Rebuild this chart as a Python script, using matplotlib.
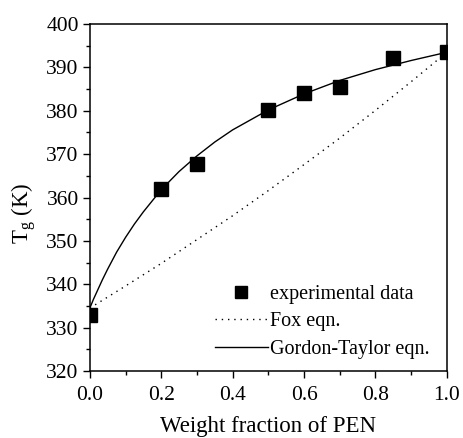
import matplotlib
matplotlib.use("Agg")
import matplotlib.pyplot as plt
from matplotlib.ticker import MultipleLocator, FuncFormatter

plt.rcParams['font.family'] = ['Liberation Serif', 'DejaVu Serif']
plt.rcParams['mathtext.fontset'] = 'custom'
plt.rcParams['mathtext.rm'] = 'Liberation Serif'
plt.rcParams['mathtext.it'] = 'Liberation Serif'

# experimental data
w_exp = [0.0, 0.2, 0.3, 0.5, 0.6, 0.7, 0.85, 1.0]
tg_exp = [333.0, 362.0, 367.7, 380.1, 384.1, 385.6, 392.1, 393.5]

# Fox equation curve
w_fox = [0.0, 0.1, 0.2, 0.3, 0.4, 0.5, 0.6, 0.7, 0.8, 0.9, 1.0]
tg_fox = [334.5, 339.6, 344.8, 350.3, 355.8, 361.6, 367.6, 373.7, 380.1, 386.7, 393.5]

# Gordon-Taylor equation curve
w_gt = [0.0, 0.01, 0.02, 0.035, 0.05, 0.075, 0.1, 0.125, 0.15, 0.2, 0.25,
        0.3, 0.35, 0.4, 0.5, 0.6, 0.7, 0.8, 0.9, 1.0]
tg_gt = [334.5, 336.5, 338.3, 341.0, 343.5, 347.4, 350.8, 353.9, 356.7, 361.8, 366.0,
         369.6, 372.8, 375.6, 380.2, 383.9, 387.0, 389.5, 391.6, 393.5]

fig = plt.figure(figsize=(4.63, 4.38), dpi=100)
ax = fig.add_axes([0.194, 0.153, 0.771, 0.792])

ax.plot(w_exp, tg_exp, linestyle='none', marker='s', color='black',
        markersize=9.7, label='experimental data', zorder=3)
ax.plot(w_fox, tg_fox, linestyle=(0, (1, 3.5)), color='black', linewidth=1.0,
        label='Fox eqn.')
ax.plot(w_gt, tg_gt, linestyle='-', color='black', linewidth=1.0,
        label='Gordon-Taylor eqn.')

ax.set_xlim(0.0, 1.0)
ax.set_ylim(320, 400)
ax.xaxis.set_major_locator(MultipleLocator(0.2))
ax.xaxis.set_minor_locator(MultipleLocator(0.1))
ax.yaxis.set_major_locator(MultipleLocator(10))
ax.yaxis.set_minor_locator(MultipleLocator(5))
ax.xaxis.set_major_formatter(FuncFormatter(lambda v, p: f"{v:.1f}"))
ax.yaxis.set_major_formatter(FuncFormatter(lambda v, p: f"{v:.0f}"))

ax.tick_params(which='major', direction='out', length=5, width=1.0, labelsize=15.5)
ax.tick_params(axis='y', which='major', pad=3)
ax.tick_params(axis='x', which='major', pad=6)
ax.tick_params(which='minor', direction='out', length=3, width=1.0)
ax.tick_params(top=False, right=False)
for s in ax.spines.values():
    s.set_linewidth(1.1)

ax.set_xlabel('Weight fraction of PEN', fontsize=16.5, labelpad=8)
ax.set_ylabel(r'T$_\mathrm{g}$ (K)', fontsize=16.5)
ax.yaxis.set_label_coords(-0.145, 0.455)

leg = ax.legend(loc='lower right', bbox_to_anchor=(0.975, 0.012), frameon=False,
                fontsize=14.5, handlelength=2.65, handletextpad=0.1,
                labelspacing=0.42, markerscale=0.9, borderaxespad=0)

fig.savefig('out.png', dpi=100)
